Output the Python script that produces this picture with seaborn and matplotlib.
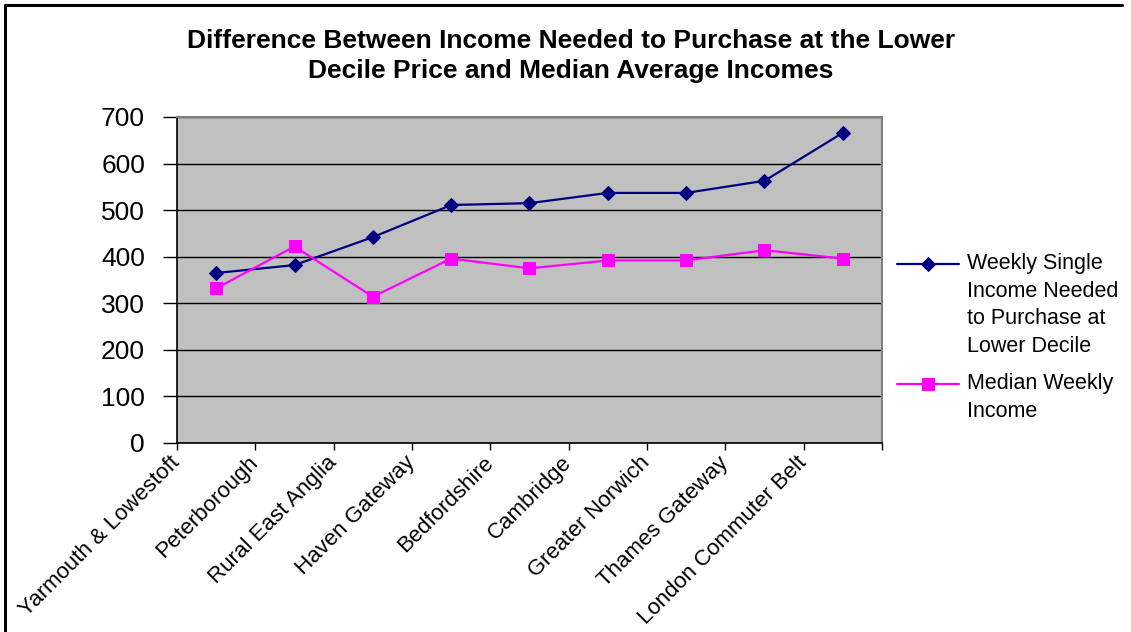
import numpy as np
import matplotlib
matplotlib.use("Agg")
import matplotlib.pyplot as plt
import seaborn as sns
from matplotlib.legend_handler import HandlerLine2D
from matplotlib.lines import Line2D

# Housing affordability by sub-region (weekly, GBP)
regions = ["Yarmouth & Lowestoft", "Peterborough", "Rural East Anglia",
           "Haven Gateway", "Bedfordshire", "Cambridge", "Greater Norwich",
           "Thames Gateway", "London Commuter Belt"]
income_needed = [365, 382, 442, 511, 515, 537, 537, 563, 666]
median_income = [332, 422, 314, 396, 375, 392, 392, 414, 396]
y_ticks = [0, 100, 200, 300, 400, 500, 600, 700]

label_needed = "Weekly Single\nIncome Needed\nto Purchase at\nLower Decile"
label_median = "Median Weekly\nIncome"
title = ("Difference Between Income Needed to Purchase at the Lower\n"
         "Decile Price and Median Average Incomes")

sns.set_style("white")
plt.rcParams["font.family"] = ["Liberation Sans", "DejaVu Sans"]
plt.rcParams["text.color"] = "black"
plt.rcParams["xtick.color"] = "black"
plt.rcParams["ytick.color"] = "black"
plt.rcParams["axes.labelcolor"] = "black"

W, H = 1131, 632
fig = plt.figure(figsize=(W / 100, H / 100), dpi=100)
ax = fig.add_axes([177 / W, 1 - 443 / H, (882 - 177) / W, (443 - 117) / H])
ax.set_facecolor("#C0C0C0")

pos = np.arange(len(regions))
sns.lineplot(x=pos, y=income_needed, ax=ax, sort=False, color="#000080",
             linewidth=1.6, marker="D", markersize=7.5,
             markeredgecolor="#000080", label=label_needed)
sns.lineplot(x=pos, y=median_income, ax=ax, sort=False, color="#FF00FF",
             linewidth=1.6, marker="s", markersize=9,
             markeredgecolor="#FF00FF", label=label_median)

ax.set_xlim(-0.5, len(regions) - 0.5)
ax.set_ylim(y_ticks[0], y_ticks[-1])
ax.set_yticks(y_ticks)
ax.set_yticklabels([str(v) for v in y_ticks])
ax.yaxis.grid(True, color="black", linewidth=1)
ax.xaxis.grid(False)
ax.set_axisbelow(True)
ax.set_xlabel("")
ax.set_ylabel("")

# category labels sit on the boundary ticks, Excel style
ax.set_xticks(np.arange(len(regions) + 1) - 0.5)
ax.set_xticklabels(regions + [""], rotation=45, ha="right", va="center",
                   rotation_mode="anchor", fontsize=16)
ax.tick_params(axis="x", direction="out", length=5, width=1, pad=7,
               bottom=True, color="black")
ax.tick_params(axis="y", direction="out", length=10, width=1, pad=13,
               labelsize=19, left=True, color="black")

for side in ("left", "bottom"):
    ax.spines[side].set_color("black")
    ax.spines[side].set_linewidth(1.2)
for side in ("top", "right"):
    ax.spines[side].set_color("#808080")
    ax.spines[side].set_linewidth(1.5)


class TopLineHandler(HandlerLine2D):
    """Place the legend key level with the first line of a multi-line label."""

    def __init__(self, shift, **kw):
        super().__init__(**kw)
        self.shift = shift

    def create_artists(self, legend, orig_handle, xdescent, ydescent,
                       width, height, fontsize, trans):
        return super().create_artists(legend, orig_handle, xdescent,
                                      ydescent - 2 * self.shift, width,
                                      height, fontsize, trans)


pitch = 19.8  # points between label lines
handles = [h for h in ax.get_lines()
           if h.get_label() in (label_needed, label_median)]
leg = ax.legend(handles, [label_needed, label_median],
                handler_map={handles[0]: TopLineHandler(1.5 * pitch),
                             handles[1]: TopLineHandler(0.5 * pitch)},
                loc="upper left", bbox_to_anchor=(897 / W, 1 - 253 / H),
                bbox_transform=fig.transFigure, frameon=False,
                fontsize=15.5, handlelength=2.9, handletextpad=0.33,
                labelspacing=0.75, borderpad=0, borderaxespad=0)
for t in leg.get_texts():
    t.set_linespacing(1.42)

fig.text(571 / W, 1 - 56 / H, title, ha="center", va="center",
         fontsize=19, fontweight="bold", linespacing=1.32)

# chart frame: top and left edges
fig.add_artist(Line2D([5 / W, 1122 / W], [1 - 5 / H, 1 - 5 / H],
                      transform=fig.transFigure, color="black", linewidth=2.2))
fig.add_artist(Line2D([5 / W, 5 / W], [0, 1 - 5 / H],
                      transform=fig.transFigure, color="black", linewidth=2.2))

fig.savefig("out.png", dpi=100)
